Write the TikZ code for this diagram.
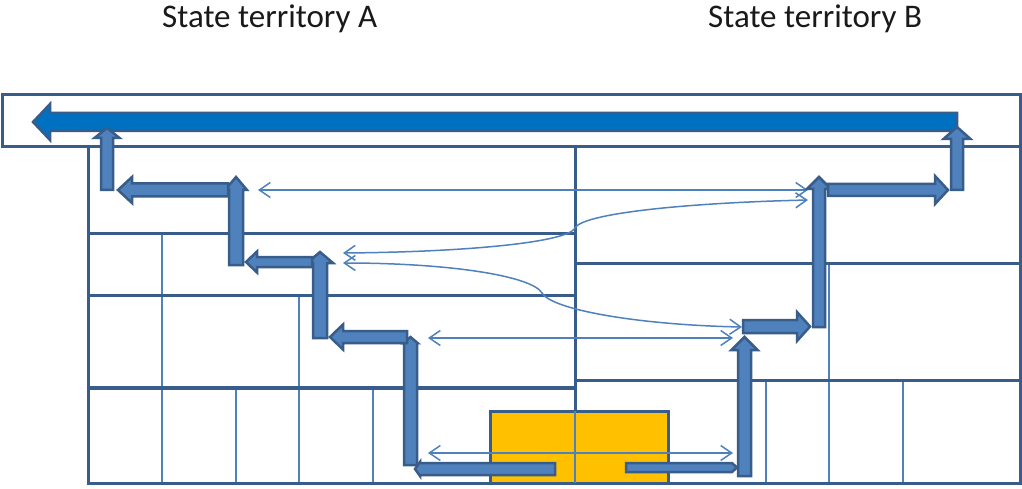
\documentclass[tikz,border=0pt]{standalone}
\usepackage{fontspec}
\setmainfont{Carlito}
\usetikzlibrary{arrows.meta}
\definecolor{frame}{HTML}{385D8A}
\definecolor{thin}{HTML}{4F81BD}
\definecolor{stepfill}{HTML}{4F81BD}
\definecolor{bigfill}{HTML}{0070C0}
\definecolor{gold}{HTML}{FFC000}
\tikzset{
 frameline/.style={draw=frame, line width=3pt},
 thickline/.style={draw=frame, line width=4.5pt},
 gridline/.style={draw=thin, line width=1.8pt},
 steparrow/.style={fill=stepfill, draw=frame, line width=2.5pt, line join=miter},
 flow/.style={draw=thin, line width=1.5pt, {Straight Barb[length=11pt,width=15pt]}-{Straight Barb[length=11pt,width=15pt]}},
 title/.style={font=\fontsize{33}{40}\selectfont, text=black!90, inner sep=0pt}
}
\newcommand\HArrow[6]{\draw[steparrow] (#1,#3-#4) -- (#6,#3-#4) -- (#6,#3-#5) -- (#2,#3) -- (#6,#3+#5) -- (#6,#3+#4) -- (#1,#3+#4) -- cycle;}
\newcommand\VArrow[6]{\draw[steparrow] (#3-#4,#1) -- (#3-#4,#6) -- (#3-#5,#6) -- (#3,#2) -- (#3+#5,#6) -- (#3+#4,#6) -- (#3+#4,#1) -- cycle;}
\begin{document}
\begin{tikzpicture}[x=1pt,y=-1pt]
\useasboundingbox (0,0) rectangle (1022,489);
\fill[white] (0,0) rectangle (1022,489);
\node[title, anchor=base west] (ta) at (162,28) {State territory A};
\node[title, anchor=base west] (tb) at (708,28) {State territory B};
% thin grid lines
\draw[gridline] (162,233) -- (162,483);
\draw[gridline] (236,388) -- (236,483);
\draw[gridline] (299,295) -- (299,483);
\draw[gridline] (373,388) -- (373,483);
\draw[gridline] (766,380) -- (766,483);
\draw[gridline] (829,263) -- (829,483);
\draw[gridline] (903,380) -- (903,483);
% frame
\draw[frameline] (2,95) rectangle (1020,147);
\draw[frameline] (88,147) -- (88,483) -- (1020,483) -- (1020,147);
\draw[frameline] (575,147) -- (575,411);
\draw[frameline] (88,233) -- (575,233);
\draw[frameline] (88,295) -- (575,295);
\draw[thickline] (88,388) -- (575,388);
\draw[frameline] (575,263) -- (1020,263);
\draw[frameline] (575,380) -- (1020,380);
% yellow box
\draw[frameline, fill=gold] (490,411) rectangle (668,483);
\draw[gridline] (575,411) -- (575,483);
% thin flows
\draw[flow] (258,190) -- (808,190);
\draw[flow] (343,253) .. controls (470,252) and (568,242) .. (575,228) .. controls (582,214) and (680,203) .. (808,200);
\draw[flow] (343,263) .. controls (450,263) and (532,276) .. (542,293) .. controls (552,310) and (640,325) .. (742,327);
\draw[flow] (428,338) -- (733,338);
\draw[flow] (428,453) -- (733,453);
% big arrow
\draw[steparrow, fill=bigfill] (957,113) -- (50,113) -- (50,104) -- (33,122) -- (50,140) -- (50,131) -- (957,131) -- cycle;
% left staircase
\HArrow{555}{415}{469}{6}{7}{420}
\VArrow{465}{337}{410.5}{6.5}{7}{343}
\HArrow{407}{330}{337}{6}{12.5}{343}
\VArrow{338}{252}{320}{7}{13}{263}
\HArrow{312}{246}{262}{5}{10.5}{257}
\VArrow{265}{177}{236}{7}{11}{190}
\HArrow{228}{118}{190}{6.5}{13}{132}
\VArrow{190}{128}{107}{6}{12.5}{138}
% right staircase
\HArrow{626}{737}{467.5}{4.5}{4.5}{732}
\VArrow{476}{337}{744.5}{6.5}{13}{350}
\HArrow{743}{810}{326.5}{6.5}{14.5}{797}
\VArrow{327}{177}{819}{6}{12}{189}
\HArrow{828}{948}{190}{6}{14}{935}
\VArrow{190}{127}{957}{6}{13.5}{139}
\end{tikzpicture}
\end{document}
